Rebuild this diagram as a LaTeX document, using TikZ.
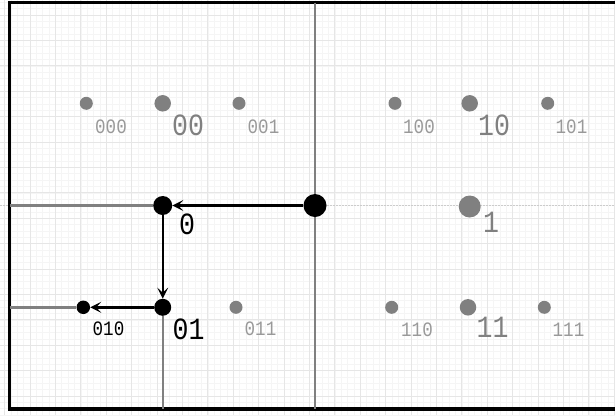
\documentclass[tikz,border=0pt]{standalone}
\usepackage{fontspec}
\newfontfamily\lblfont{Liberation Mono}[FakeStretch=0.86]
\usetikzlibrary{arrows.meta}
\definecolor{gr}{HTML}{808080}
\definecolor{lgr}{HTML}{999999}
\definecolor{gmaj}{HTML}{E6E6E6}
\definecolor{gmin}{HTML}{F5F5F5}
\begin{document}
\begin{tikzpicture}[x=1bp,y=-1bp,
  gdot/.style={circle,fill=gr,inner sep=0pt,minimum size=13bp},
  gbig/.style={circle,fill=gr,inner sep=0pt,minimum size=16.5bp},
  bdot/.style={circle,fill=black,inner sep=0pt},
  lbl/.style={inner sep=0pt,font=\lblfont\fontsize{20.5}{20.5}\selectfont,text=lgr},
  biglbl/.style={inner sep=0pt,font=\lblfont\fontsize{31}{31}\selectfont,text=gr},
  gline/.style={draw=gr,line width=2.4bp},
  arr/.style={draw=black,line width=2.4bp,-{Stealth[length=11bp,width=11bp,inset=5bp]}},
  minorline/.style={draw=gmin,line width=0.6bp},
  majorline/.style={draw=gmaj,line width=0.8bp}]
\useasboundingbox (0,0) rectangle (615,415);
\fill[white] (0,0) rectangle (615,415);
% grid
\foreach \i in {0,...,100} {
  \pgfmathsetmacro{\xx}{4.6+6.35*\i}
  \draw[minorline] (\xx,0) -- (\xx,415);
}
\foreach \i in {0,...,68} {
  \pgfmathsetmacro{\yy}{-10.4+6.35*\i}
  \draw[minorline] (0,\yy) -- (615,\yy);
}
\foreach \i in {0,...,25} {
  \pgfmathsetmacro{\xx}{4.6+25.4*\i}
  \draw[majorline] (\xx,0) -- (\xx,415);
}
\foreach \i in {0,...,17} {
  \pgfmathsetmacro{\yy}{-10.4+25.4*\i}
  \draw[majorline] (0,\yy) -- (615,\yy);
}
% faint guide
\draw[gr!40,line width=0.6bp,dash pattern=on 1.5bp off 1.5bp] (0,205.5) -- (615,205.5);
% frame
\draw[line width=3.5bp] (625,2.5) -- (9.5,2.5) -- (9.5,409) -- (625,409);
% named points
\coordinate (topmid) at (315,2.5);
\coordinate (botmid) at (315,409);
\coordinate (leftA) at (9.5,205.5);
\coordinate (leftB) at (9.5,307.3);
\coordinate (botA) at (162.7,409);
% gray dividing lines
\draw[gline] (topmid) -- (botmid);
% nodes
\node[bdot,minimum size=23bp] (root) at (315,205.5) {};
\node[bdot,minimum size=19bp] (n0) at (162.7,205.5) {};
\node[bdot,minimum size=17bp] (n01) at (162.7,307.3) {};
\node[bdot,minimum size=13.5bp] (n010) at (83.3,307.3) {};
\draw[gline] (leftA) -- (n0);
\draw[gline] (n01) -- (botA);
\draw[gline] (leftB) -- (n010);
\node[gdot] (n000) at (86.3,103.3) {};
\node[gbig] (n00) at (162.7,103.3) {};
\node[gdot] (n001) at (239,103.3) {};
\node[gdot] (n100) at (395,103.3) {};
\node[gbig] (n10) at (469.7,103.3) {};
\node[gdot] (n101) at (547.7,103.3) {};
\node[gbig,minimum size=22bp] (n1) at (469.7,206.5) {};
\node[gdot] (n011) at (236,307.3) {};
\node[gdot] (n110) at (391.7,307.3) {};
\node[gbig] (n11) at (468,307.3) {};
\node[gdot] (n111) at (544.3,307.3) {};
% arrows
\draw[arr] (root) -- (n0);
\draw[arr] (n0) -- (n01);
\draw[arr] (n01) -- (n010);
% labels
\node[lbl] (t000) at (111,126.5) {000};
\node[biglbl] (t00) at (188,125.5) {00};
\node[lbl] (t001) at (263.5,126.5) {001};
\node[lbl] (t100) at (419,127) {100};
\node[biglbl] (t10) at (494,125) {10};
\node[lbl] (t101) at (571.5,127) {101};
\node[biglbl] (t1) at (491,222.5) {1};
\node[biglbl,text=black] (t0) at (187,224) {0};
\node[biglbl,text=black] (t01) at (188.5,329.5) {01};
\node[lbl,text=black] (t010) at (108.5,328.5) {010};
\node[lbl] (t011) at (260.5,329) {011};
\node[lbl] (t110) at (417,330) {110};
\node[biglbl] (t11) at (492.5,327) {11};
\node[lbl] (t111) at (568.5,330) {111};
\end{tikzpicture}
\end{document}
